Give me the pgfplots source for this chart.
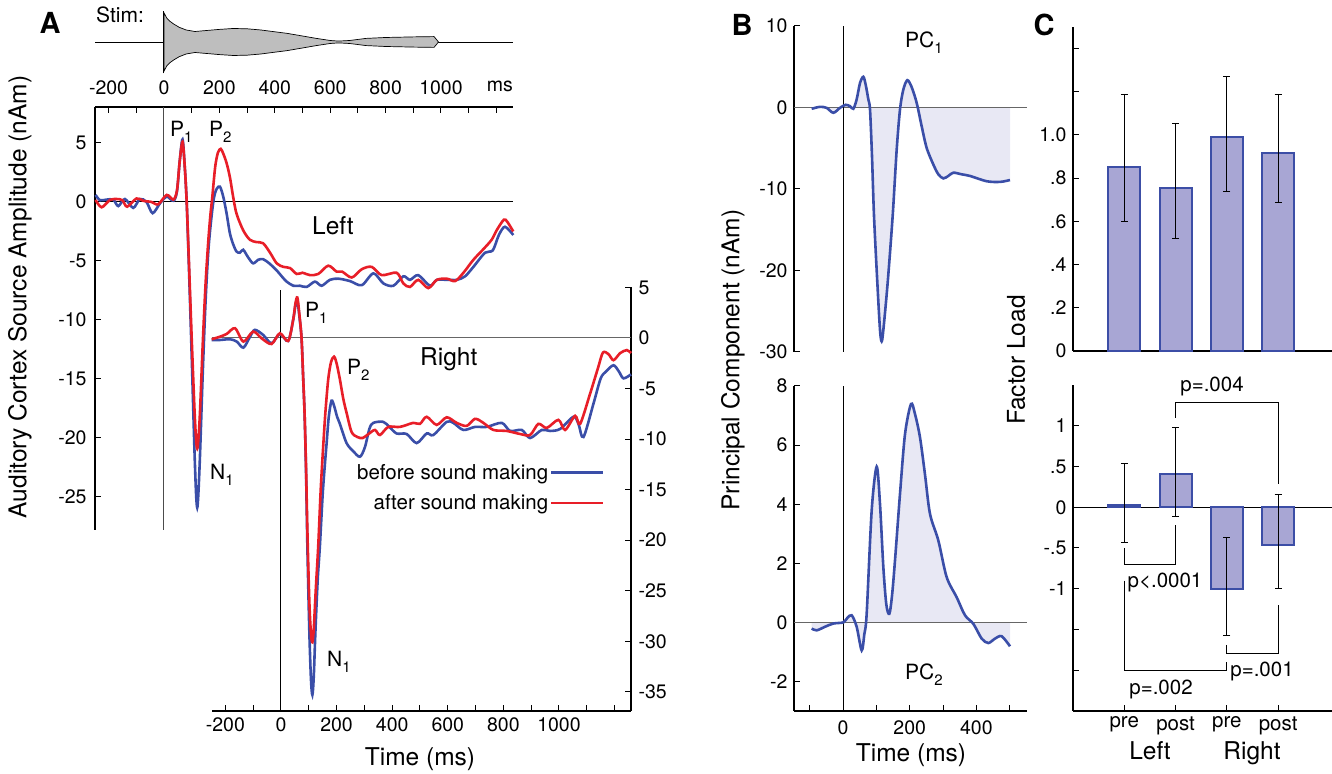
\documentclass[border=0pt]{standalone}
\usepackage{fontspec}
\setmainfont{TeX Gyre Heros}
\usepackage{pgfplots}
\pgfplotsset{compat=1.18}
\definecolor{cblue}{RGB}{58,78,168}
\definecolor{cred}{RGB}{232,30,40}
\definecolor{barfill}{RGB}{168,166,212}
\definecolor{baredge}{RGB}{60,78,166}
\definecolor{pcfill}{RGB}{232,232,244}
\definecolor{stimfill}{RGB}{190,190,190}
\newcommand\fT{\fontsize{19.5}{20}\selectfont}
\newcommand\fL{\fontsize{24.5}{26}\selectfont}
\newcommand\fLab{\fontsize{21}{22}\selectfont}
\newcommand\fSub{\fontsize{15}{16}\selectfont}
\newcommand\fPanel{\fontsize{29}{30}\selectfont\bfseries}
\newcommand\sub[1]{\raisebox{-6pt}{\fSub #1}}
\pgfplotsset{
  base/.style={scale only axis, clip=false, tick align=inside,
    major tick length=6pt, minor tick length=6pt,
    tick style={black, line width=1pt},
    axis line style={black, line width=1.3pt},
    ticklabel style={font=\fT},
    /pgf/number format/1000 sep={}},
  curve/.style={line width=2.6pt, smooth, tension=0.5},
}
\begin{document}
\begin{tikzpicture}
\useasboundingbox (0,0) rectangle (1332pt,773pt);
% ---------------- Stimulus
\begin{axis}[base, at={(95pt,698pt)}, anchor=south west, width=418pt, height=66pt,
  xmin=-249, xmax=1260, ymin=-1.1, ymax=1.1,
  axis x line*=bottom, axis y line=none,
  x axis line style={draw=none},
  xtick={-200,0,200,400,600,800,1000,1213},
  xticklabels={-200,0,200,400,600,800,1000,ms},
  major tick length=0pt, xticklabel style={yshift=-2pt}]
\addplot[black, line width=0.9pt] coordinates {(-249,0) (1260,0)};
\addplot[fill=stimfill, draw=black, line width=0.7pt] coordinates {
(0,0) (0,0.97) (10,0.8) (20,0.7) (35,0.6) (55,0.49) (80,0.4) (112,0.35) (150,0.38) (200,0.42) (250,0.45) (300,0.44) (350,0.40) (400,0.34) (443,0.29) (500,0.20) (550,0.12) (600,0.05) (630,0.03) (670,0.05) (730,0.12) (800,0.15) (900,0.17) (975,0.18) (991,0)
(975,-0.18) (900,-0.17) (800,-0.15) (730,-0.12) (670,-0.05) (630,-0.03) (600,-0.05) (550,-0.12) (500,-0.20) (443,-0.29) (400,-0.34) (350,-0.40) (300,-0.44) (250,-0.45) (200,-0.42) (150,-0.38) (112,-0.35) (80,-0.4) (55,-0.49) (35,-0.6) (20,-0.7) (10,-0.8) (0,-0.97)} -- cycle;
\addplot[black, line width=1pt] coordinates {(0,-1.05) (0,1.02)};
\end{axis}
% ---------------- A left
\begin{axis}[base, at={(95pt,243pt)}, anchor=south west, width=418pt, height=423pt,
  xmin=-249, xmax=1260, ymin=-27.8, ymax=8.05,
  axis x line*=top, axis y line*=left,
  xtick={-200,-100,...,1200}, xticklabels={},
  ytick={-25,-20,-15,-10,-5,0,5}, yticklabels={-25,-20,-15,-10,-5,0,5},
  yticklabel style={xshift=-5pt}]
\addplot[black, line width=1pt] coordinates {(-249,0) (1260,0)};
\addplot[black!70, line width=1pt] coordinates {(0,-27.8) (0,8.05)};
\addplot[cblue, curve] coordinates {
(-247,0.6) (-231,0.15) (-207,0.2) (-183,0.2) (-165,-0.35) (-141,0.25) (-111,-0.5) (-87,0.25) (-63,0.0) (-41,-0.95) (-14,-0.1) (10,0.45) (34,0.1) (47,0.9) (57,3.5) (67,5.3) (75,3.0) (82,0) (90,-5.5) (100,-13) (110,-21) (116,-24.8) (120,-25.9) (124,-24.8) (130,-21.5) (140,-14.5) (150,-8.5) (160,-4.2) (170,-1.6) (180,0.3) (190,1.1) (202,1.3) (214,0.45) (226,-0.96) (238,-2.65) (250,-3.6) (262,-4.2) (274,-4.3) (286,-4.05) (304,-4.7) (322,-5.2) (340,-4.9) (358,-4.85) (380,-5.2) (407,-5.8) (425,-6.3) (443,-6.75) (467,-7.1) (491,-7.1) (515,-7.2) (545,-6.75) (569,-7.1) (599,-6.6) (629,-6.5) (671,-6.7) (714,-7.05) (756,-6.05) (792,-6.9) (828,-7.1) (864,-6.3) (888,-6.6) (918,-6.2) (960,-7.1) (985,-6.6) (1021,-6.6) (1057,-6.6) (1087,-6.3) (1117,-5.5) (1159,-4.3) (1187,-4.1) (1209,-2.8) (1231,-2.1) (1261,-2.8)};
\addplot[cred, curve] coordinates {
(-247,0.17) (-225,-0.45) (-195,0.17) (-171,0.25) (-150,0.15) (-133,-0.4) (-99,0.3) (-75,0.1) (-45,0.0) (-21,-0.2) (10,0.6) (34,0.2) (47,1.0) (57,3.5) (67,5.1) (75,3.0) (82,0) (90,-5) (100,-11.5) (110,-17.5) (116,-20.2) (120,-20.9) (124,-20.2) (130,-17.8) (140,-12.0) (150,-7.0) (160,-3.3) (168,-1.0) (174,0.3) (185,3.0) (195,4.2) (205,4.5) (214,4.1) (226,3.3) (238,2.1) (250,0.4) (262,-1.0) (286,-2.4) (310,-3.2) (334,-3.4) (358,-3.5) (383,-4.3) (407,-5.2) (431,-5.5) (455,-5.6) (479,-6.1) (500,-6.0) (527,-6.2) (557,-6.1) (593,-5.4) (623,-5.9) (643,-5.9) (678,-6.4) (714,-5.7) (750,-5.5) (786,-6.2) (840,-6.0) (864,-6.9) (888,-7.2) (918,-6.6) (954,-7.3) (985,-6.6) (1021,-6.5) (1051,-6.7) (1081,-6.0) (1117,-4.9) (1153,-4.0) (1183,-3.2) (1201,-2.4) (1227,-1.5) (1240,-1.7) (1261,-2.5)};
\end{axis}
% ---------------- A right
\begin{axis}[base, at={(212pt,62pt)}, anchor=south west, width=419pt, height=424pt,
  xmin=-248, xmax=1259, ymin=-36.9, ymax=5.04,
  axis x line*=bottom, axis y line*=right,
  xtick={-200,0,200,400,600,800,1000}, xticklabels={-200,0,200,400,600,800,1000},
  minor xtick={-100,100,300,500,700,900,1100,1200},
  ytick={-35,-30,-25,-20,-15,-10,-5,0,5}, yticklabels={-35,-30,-25,-20,-15,-10,-5,0,5},
  yticklabel style={xshift=4pt}, xticklabel style={yshift=-3pt},
  legend style={draw=none, fill=none, at={(0.945,0.592)}, anchor=north east,
    font=\fontsize{20.5}{21}\selectfont, row sep=10pt},
  legend cell align=right, legend plot pos=right,
  legend image code/.code={\draw[#1] (0pt,0pt) -- (52pt,0pt);}]
\addplot[black!60, line width=1pt, forget plot] coordinates {(-248,0) (1259,0)};
\addplot[black, line width=1pt, forget plot] coordinates {(0,-36.9) (0,4.75)};
\addplot[cblue, curve] coordinates {
(-249,-0.2) (-219,-0.2) (-183,-0.13) (-159,-0.36) (-135,-0.96) (-111,0.13) (-94,0.8) (-64,0.3) (-34,-0.53) (-4,0.4) (26,-0.3) (44,1.8) (52,3.2) (59,3.7) (66,2.2) (74,0) (80,-4) (85,-7.5) (90,-13) (95,-20.6) (102,-29) (108,-33.8) (113,-35.3) (118,-33.5) (124,-29) (132,-24) (140,-20.6) (150,-15.5) (158,-12.5) (164,-10.5) (172,-7.8) (182,-6.2) (192,-6.8) (202,-7.8) (212,-8.5) (236,-10.4) (260,-11.2) (284,-11.75) (302,-10.8) (318,-9.0) (332,-8.4) (368,-8.3) (390,-8.8) (416,-9.45) (452,-9.5) (488,-10.4) (524,-9.45) (548,-9.6) (596,-8.3) (620,-8.4) (656,-9.1) (698,-8.8) (740,-8.8) (794,-8.4) (824,-9.2) (866,-9.1) (896,-9.9) (938,-9.1) (968,-9.2) (1004,-9.0) (1052,-7.8) (1070,-8.5) (1088,-9.8) (1124,-6.5) (1150,-4.0) (1170,-3.3) (1196,-2.7) (1215,-3.3) (1232,-4.0) (1259,-3.6)};
\addlegendentry{before sound making}
\addplot[cred, curve] coordinates {
(-249,-0.13) (-219,0.13) (-195,0.4) (-165,0.96) (-135,-0.36) (-100,0.63) (-70,-0.03) (-34,-0.6) (-4,0.46) (26,-0.3) (44,1.8) (52,3.4) (59,4.0) (66,2.4) (74,0) (80,-4) (85,-7.5) (90,-12.5) (95,-19) (102,-26) (108,-29.3) (113,-30.1) (118,-28.8) (125,-25) (134,-20.6) (143,-15) (152,-10.7) (160,-7.3) (170,-4.1) (180,-2.4) (191,-1.85) (200,-2.5) (212,-4.1) (224,-6) (236,-7.4) (254,-9.3) (275,-9.8) (294,-9.9) (315,-9.5) (338,-9.1) (356,-9.6) (386,-8.8) (428,-8.8) (476,-8.4) (500,-8.5) (524,-7.8) (560,-8.6) (596,-7.85) (632,-8.4) (668,-8.7) (698,-8.0) (728,-8.4) (764,-9.1) (812,-9.2) (860,-9.5) (896,-9.6) (926,-8.5) (956,-8.9) (998,-8.1) (1022,-9.1) (1058,-7.7) (1076,-8.5) (1112,-5.5) (1140,-3.0) (1158,-1.45) (1178,-1.6) (1196,-2.2) (1220,-1.5) (1244,-1.2) (1259,-1.5)};
\addlegendentry{after sound making}
\end{axis}
% ---------------- B top
\begin{axis}[base, at={(794pt,421pt)}, anchor=south west, width=233pt, height=326pt,
  xmin=-147, xmax=552, ymin=-30, ymax=10,
  axis y line*=left, axis x line=none, xtick=\empty,
  ytick={-30,-20,-10,0,10}, yticklabels={-30,-20,-10,0,10},
  yticklabel style={xshift=-3pt}]
\addplot[draw=none, fill=pcfill, smooth, tension=0.5] coordinates {
(-94,-0.16) (-69,0.08) (-49,-0.05) (-29,-0.65) (-9,-0.04) (8,0.33) (21,0.16) (31,-0.16) (41,1.0) (51,3.0) (61,3.77) (68,2.8) (76,1.0) (81,-0.24) (87,-6) (93,-13.3) (103,-21.5) (111,-27.3) (116,-28.7) (121,-27.3) (134,-21.5) (149,-13.3) (161,-5.2) (171,-0.24) (181,2.2) (193,3.35) (206,2.5) (221,0.57) (236,-2.3) (251,-4.97) (271,-7.0) (286,-8.2) (301,-8.7) (316,-8.4) (331,-8.0) (356,-8.2) (381,-8.4) (431,-9.05) (471,-9.13) (501,-8.9)} \closedcycle;
\addplot[black!60, line width=1pt] coordinates {(-147,0) (552,0)};
\addplot[black, line width=1pt] coordinates {(0,-30) (0,10)};
\addplot[cblue, curve] coordinates {
(-94,-0.16) (-69,0.08) (-49,-0.05) (-29,-0.65) (-9,-0.04) (8,0.33) (21,0.16) (31,-0.16) (41,1.0) (51,3.0) (61,3.77) (68,2.8) (76,1.0) (81,-0.24) (87,-6) (93,-13.3) (103,-21.5) (111,-27.3) (116,-28.7) (121,-27.3) (134,-21.5) (149,-13.3) (161,-5.2) (171,-0.24) (181,2.2) (193,3.35) (206,2.5) (221,0.57) (236,-2.3) (251,-4.97) (271,-7.0) (286,-8.2) (301,-8.7) (316,-8.4) (331,-8.0) (356,-8.2) (381,-8.4) (431,-9.05) (471,-9.13) (501,-8.9)};
\end{axis}
% ---------------- B bottom
\begin{axis}[base, at={(794pt,62pt)}, anchor=south west, width=233pt, height=325pt,
  xmin=-147, xmax=552, ymin=-3, ymax=8,
  axis y line*=left, axis x line*=bottom,
  xtick={0,200,400}, xticklabels={0,200,400}, minor xtick={-100,100,300,500},
  ytick={-2,0,2,4,6,8}, yticklabels={-2,0,2,4,6,8},
  yticklabel style={xshift=-3pt}, xticklabel style={yshift=-6pt}]
\addplot[draw=none, fill=pcfill, smooth, tension=0.5] coordinates {
(-94,-0.21) (-79,-0.27) (-54,-0.15) (-29,-0.04) (1,0.0) (13,0.15) (26,0.24) (41,-0.15) (56,-0.95) (64,-0.4) (71,0.29) (86,3.78) (101,5.27) (111,4.0) (121,1.87) (130,0.6) (139,0.29) (147,0.9) (156,2.1) (171,4.35) (186,6.37) (204,7.39) (216,7.05) (231,6.26) (246,5.0) (261,3.67) (286,2.77) (311,1.53) (341,0.85) (366,0.24) (391,-0.05) (416,-0.55) (436,-0.7) (456,-0.55) (476,-0.47) (501,-0.81)} \closedcycle;
\addplot[black!60, line width=1pt] coordinates {(-147,0) (552,0)};
\addplot[black, line width=1pt] coordinates {(0,-3) (0,8)};
\addplot[cblue, curve] coordinates {
(-94,-0.21) (-79,-0.27) (-54,-0.15) (-29,-0.04) (1,0.0) (13,0.15) (26,0.24) (41,-0.15) (56,-0.95) (64,-0.4) (71,0.29) (86,3.78) (101,5.27) (111,4.0) (121,1.87) (130,0.6) (139,0.29) (147,0.9) (156,2.1) (171,4.35) (186,6.37) (204,7.39) (216,7.05) (231,6.26) (246,5.0) (261,3.67) (286,2.77) (311,1.53) (341,0.85) (366,0.24) (391,-0.05) (416,-0.55) (436,-0.7) (456,-0.55) (476,-0.47) (501,-0.81)};
\end{axis}
% ---------------- C top
\begin{axis}[base, at={(1073pt,422pt)}, anchor=south west, width=259pt, height=324pt,
  xmin=0, xmax=5.05, ymin=0, ymax=1.5,
  axis y line*=left, axis x line*=bottom, xtick=\empty,
  ytick={0,0.2,0.4,0.6,0.8,1.0}, yticklabels={0,.2,.4,.6,.8,1.0},
  minor ytick={1.2,1.4}, yticklabel style={xshift=-3pt}]
\addplot[ybar, bar width=32pt, fill=barfill, draw=baredge, line width=2pt,
  error bars/.cd, y dir=both, y explicit,
  error bar style={black, line width=0.9pt},
  error mark options={black, line width=0.9pt, mark size=3.5pt, rotate=90}]
  coordinates {(1,0.85) += (0,0.34) -= (0,0.25)
               (2,0.753) += (0,0.30) -= (0,0.23)
               (3,0.99) += (0,0.28) -= (0,0.25)
               (4,0.915) += (0,0.275) -= (0,0.225)};
\end{axis}
% ---------------- C bottom
\begin{axis}[base, at={(1073pt,62pt)}, anchor=south west, width=259pt, height=326pt,
  xmin=0, xmax=5.05, ymin=-2.5, ymax=1.5,
  axis y line*=left, axis x line*=bottom,
  xtick={1,2,3,4}, xticklabels={pre,post,pre,post},
  xticklabel style={font=\fontsize{20.5}{21}\selectfont, yshift=-2pt},
  ytick={-1,-0.5,0,0.5,1}, yticklabels={-1,-.5,0,.5,1},
  minor ytick={-2,-1.5}, yticklabel style={xshift=-3pt}]
\addplot[black, line width=1pt] coordinates {(0,0) (5.05,0)};
\addplot[ybar, bar width=32pt, fill=barfill, draw=baredge, line width=2pt,
  error bars/.cd, y dir=both, y explicit,
  error bar style={black, line width=0.9pt},
  error mark options={black, line width=0.9pt, mark size=3.5pt, rotate=90}]
  coordinates {(1,0.025) += (0,0.51) -= (0,0.455)
               (2,0.41) += (0,0.57) -= (0,0.52)
               (3,-1.0) += (0,0.63) -= (0,0.57)
               (4,-0.46) += (0,0.62) -= (0,0.54)};
\addplot[black, line width=0.9pt] coordinates {(2,1.10) (2,1.29) (4,1.29) (4,0.29)};
\addplot[black, line width=0.9pt] coordinates {(1,-0.50) (1,-0.70) (2,-0.70) (2,-0.22)};
\addplot[black, line width=0.9pt] coordinates {(1,-0.90) (1,-2.00) (3,-2.00) (3,-1.90)};
\addplot[black, line width=0.9pt] coordinates {(3,-1.69) (3,-1.80) (4,-1.80) (4,-1.20)};
\end{axis}
% ---------------- text
\node[font=\fPanel] at (50pt,750pt) {A};
\node[font=\fPanel] at (742pt,748pt) {B};
\node[font=\fPanel] at (1044pt,748pt) {C};
\node[font=\fontsize{21}{22}\selectfont, anchor=base west, inner sep=0pt] at (96pt,750pt) {Stim:};
\node[font=\fL, rotate=90] at (20pt,476pt) {Auditory Cortex Source Amplitude (nAm)};
\node[font=\fLab, anchor=base west, inner sep=0pt] at (170pt,636pt) {P\sub{1}};
\node[font=\fLab, anchor=base west, inner sep=0pt] at (209pt,636pt) {P\sub{2}};
\node[font=\fLab, anchor=base west, inner sep=0pt] at (210pt,293pt) {N\sub{1}};
\node[font=\fL, anchor=base west, inner sep=0pt] at (312pt,538pt) {Left};
\node[font=\fLab, anchor=base west, inner sep=0pt] at (305pt,455pt) {P\sub{1}};
\node[font=\fLab, anchor=base west, inner sep=0pt] at (347pt,398pt) {P\sub{2}};
\node[font=\fLab, anchor=base west, inner sep=0pt] at (327pt,106pt) {N\sub{1}};
\node[font=\fL, anchor=base west, inner sep=0pt] at (420pt,407pt) {Right};
\node[font=\fL, anchor=base, inner sep=0pt] at (420pt,7pt) {Time (ms)};
\node[font=\fLab, anchor=base west, inner sep=0pt] at (905pt,725pt) {PC\sub{1}};
\node[font=\fLab, anchor=base west, inner sep=0pt] at (905pt,93pt) {PC\sub{2}};
\node[font=\fL, anchor=base, inner sep=0pt] at (911pt,11pt) {Time (ms)};
\node[font=\fL, rotate=90] at (733pt,413pt) {Principal Component (nAm)};
\node[font=\fL, rotate=90] at (1016pt,413pt) {Factor Load};
\node[font=\fL, anchor=base, inner sep=0pt] at (1150pt,13pt) {Left};
\node[font=\fL, anchor=base, inner sep=0pt] at (1252pt,13pt) {Right};
\node[font=\fontsize{20.5}{21}\selectfont, anchor=base, inner sep=0pt] at (1212pt,381pt) {p=.004};
\node[font=\fontsize{20.5}{21}\selectfont, anchor=base, inner sep=0pt] at (1165pt,185pt) {p<.0001};
\node[font=\fontsize{20.5}{21}\selectfont, anchor=base, inner sep=0pt] at (1161pt,78pt) {p=.002};
\node[font=\fontsize{20.5}{21}\selectfont, anchor=base, inner sep=0pt] at (1262pt,96pt) {p=.001};
\end{tikzpicture}
\end{document}
